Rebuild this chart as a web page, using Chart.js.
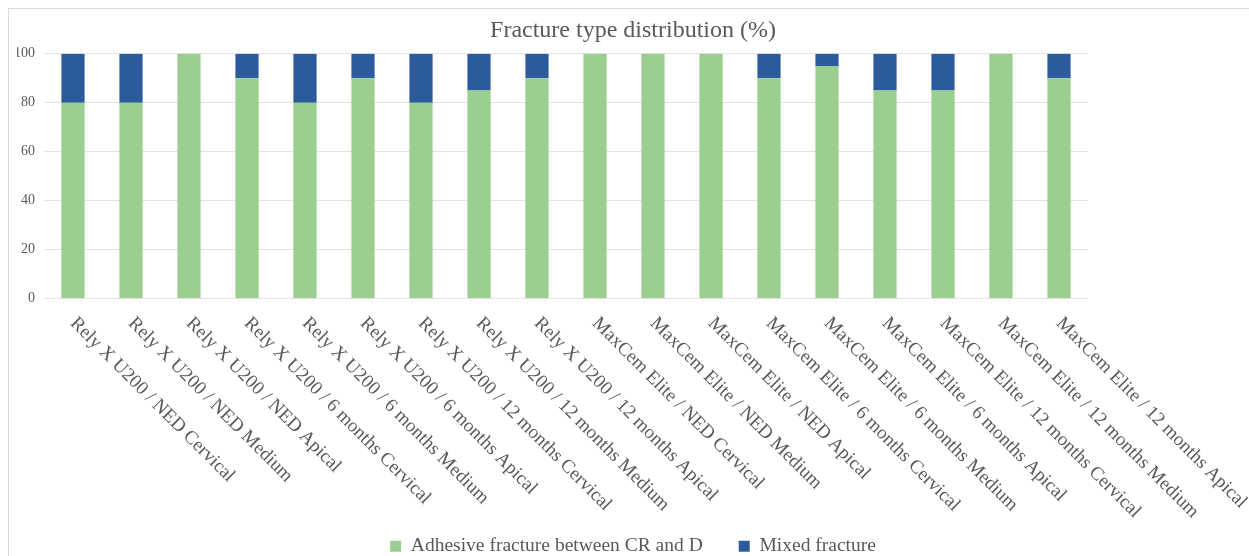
<!DOCTYPE html>
<html>
<head>
<meta charset="utf-8">
<title>Fracture type distribution</title>
<script src="https://cdn.jsdelivr.net/npm/chart.js@4.4.0/dist/chart.umd.min.js"></script>
<style>
  html, body { margin: 0; padding: 0; background: #fff; overflow: hidden; }
  #wrap { position: relative; width: 1249px; height: 556px; }
  #frame { position: absolute; left: 8px; top: 8px; width: 1300px; height: 600px;
           border-left: 1px solid #d9d9d9; border-top: 1px solid #d9d9d9; }
  canvas { position: absolute; left: 0; top: 0; }
</style>
</head>
<body>
<div id="wrap">
  <div id="frame"></div>
  <canvas id="chart" width="1249" height="556"></canvas>
</div>
<script>
// Группы (категории оси X)
const groups = [
    'Rely X U200 / NED Cervical',
    'Rely X U200 / NED Medium',
    'Rely X U200 / NED Apical',
    'Rely X U200 / 6 months Cervical',
    'Rely X U200 / 6 months Medium',
    'Rely X U200 / 6 months Apical',
    'Rely X U200 / 12 months Cervical',
    'Rely X U200 / 12 months Medium',
    'Rely X U200 / 12 months Apical',
    'MaxCem Elite / NED Cervical',
    'MaxCem Elite / NED Medium',
    'MaxCem Elite / NED Apical',
    'MaxCem Elite / 6 months Cervical',
    'MaxCem Elite / 6 months Medium',
    'MaxCem Elite / 6 months Apical',
    'MaxCem Elite / 12 months Cervical',
    'MaxCem Elite / 12 months Medium',
    'MaxCem Elite / 12 months Apical'
];

// Значения серий (%)
const adhesive = [80, 80, 100, 90, 80, 90, 80, 85, 90, 100, 100, 100, 90, 95, 85, 85, 100, 90];
const mixed    = [20, 20, 0, 10, 20, 10, 20, 15, 10, 0, 0, 0, 10, 5, 15, 15, 0, 10];

const seriesNames = ['Adhesive fracture between CR and D', 'Mixed fracture'];
const yTicks = [0, 20, 40, 60, 80, 100];

const SERIF = '"Liberation Serif", "Times New Roman", serif';
const TEXT = '#595959';

// Наклонные подписи оси X (вниз-вправо от деления)
const slantLabels = {
    id: 'slantLabels',
    afterDraw(chart) {
        const xs = chart.scales.x;
        const ctx = chart.ctx;
        ctx.save();
        ctx.font = '19px ' + SERIF;
        ctx.fillStyle = TEXT;
        ctx.textAlign = 'left';
        ctx.textBaseline = 'middle';
        groups.forEach((lab, i) => {
            const px = xs.getPixelForTick(i);
            ctx.save();
            ctx.translate(px, xs.top + 22);
            ctx.rotate(Math.PI / 4);
            ctx.fillText(lab, 0, 0);
            ctx.restore();
        });
        ctx.restore();
    }
};

new Chart(document.getElementById('chart'), {
    type: 'bar',
    data: {
        labels: groups,
        datasets: [{
            label: seriesNames[0],
            data: adhesive,
            backgroundColor: '#9BCF8F',
            barPercentage: 0.4,
            categoryPercentage: 1
        }, {
            label: seriesNames[1],
            data: mixed,
            backgroundColor: '#2B5B9B',
            barPercentage: 0.4,
            categoryPercentage: 1
        }]
    },
    options: {
        responsive: false,
        animation: false,
        devicePixelRatio: 1,
        layout: { padding: { left: 17, right: 0, top: 0, bottom: -10 } },
        plugins: {
            tooltip: { enabled: false },
            title: {
                display: true,
                text: 'Fracture type distribution (%)',
                color: TEXT,
                font: { family: SERIF, size: 24, weight: 'normal' },
                padding: { top: 16, bottom: 9 }
            },
            legend: {
                position: 'bottom',
                labels: {
                    color: TEXT,
                    font: { family: SERIF, size: 19.5 },
                    boxWidth: 11,
                    boxHeight: 11,
                    padding: 36
                }
            }
        },
        scales: {
            x: {
                stacked: true,
                grid: { display: false },
                border: { display: false },
                ticks: { display: false },
                afterFit: s => { s.height = 202; }
            },
            y: {
                stacked: true,
                min: 0,
                max: 100,
                afterBuildTicks: s => { s.ticks = yTicks.map(v => ({ value: v })); },
                grid: { color: '#e2e2e2', drawTicks: false },
                border: { display: false },
                ticks: {
                    color: TEXT,
                    font: { family: SERIF, size: 14 },
                    padding: 9
                },
                afterFit: s => { s.width = 27; }
            },
            // пустое место справа под длинные подписи
            spacer: {
                type: 'linear',
                position: 'right',
                grid: { display: false },
                border: { display: false },
                ticks: { display: false },
                afterFit: s => { s.width = 161; }
            }
        }
    },
    plugins: [slantLabels]
});
</script>
</body>
</html>
